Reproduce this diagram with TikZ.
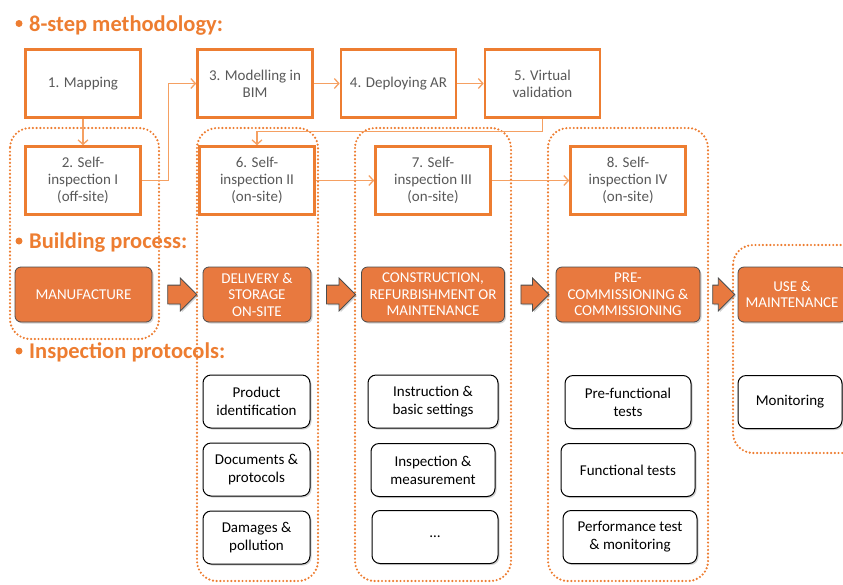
\documentclass[tikz,border=0pt]{standalone}
\usepackage{fontspec}
\setmainfont{Carlito}
\usetikzlibrary{positioning,calc,shapes.arrows,shadows,arrows.meta}
\definecolor{boxorange}{HTML}{ED7D31}
\definecolor{linkorange}{HTML}{F5A062}
\definecolor{fillorange}{HTML}{E8793F}
\definecolor{txtgray}{HTML}{595959}

\begin{document}
\begin{tikzpicture}[x=1pt, y=-1pt,
    stepbox/.style={draw=boxorange, line width=2.6pt, fill=white, text=txtgray, align=center,
      minimum width=115pt, minimum height=68pt, inner sep=2pt, font=\fontsize{15}{17}\selectfont},
    procbox/.style={draw=gray!60!black, line width=.8pt, fill=fillorange, text=white, align=center,
      rounded corners=6pt, minimum height=55pt, inner sep=1pt, font=\fontsize{15}{16.5}\selectfont,
      drop shadow={opacity=.35, shadow xshift=1.5pt, shadow yshift=-1.5pt}},
    protbox/.style={draw=black, line width=1pt, fill=white, align=center, rounded corners=8pt,
      minimum height=53pt, inner sep=1pt, font=\fontsize{15}{18}\selectfont,
      drop shadow={opacity=.35, shadow xshift=1.5pt, shadow yshift=-1.5pt}},
    blockarrow/.style={single arrow, draw=gray!60!black, line width=.8pt, fill=fillorange,
      minimum width=32pt, single arrow head extend=7pt, inner xsep=0pt, inner ysep=9pt,
      drop shadow={opacity=.35, shadow xshift=1.5pt, shadow yshift=-1.5pt}},
    region/.style={draw=boxorange, line width=2.4pt, dash pattern=on 0pt off 3.7pt,
      line cap=round, rounded corners=20pt},
    link/.style={draw=linkorange, line width=1.3pt, ->, >={Straight Barb[length=4.5pt, width=10pt]}},
    heading/.style={anchor=base west, inner sep=0pt, text=boxorange,
      font=\fontsize{22.5}{27}\selectfont\bfseries},
    bullet/.style={circle, fill=boxorange, inner sep=0pt, minimum size=7pt}]
  \useasboundingbox (0, 0) rectangle (843, 584);
  \clip (0, 0) rectangle (843, 584);

  \draw [region] (10, 128) rectangle (159, 339)
                 (197, 128) rectangle (318, 581)
                 (355, 128) rectangle (511, 581)
                 (548, 128) rectangle (708, 581)
                 (733, 245) rectangle (870, 453);

  \node [bullet] (dot1) at (19, 23.5) {};
  \node [heading] (h1) at (29, 31) {8-step methodology:};
  \node [bullet] (dot2) at (19, 241) {};
  \node [heading] (h2) at (29, 248.5) {Building process:};
  \node [bullet] (dot3) at (19, 351) {};
  \node [heading] (h3) at (29, 358.5) {Inspection protocols:};

  \node [stepbox] (s1) at (83, 83.5) {1. Mapping};
  \node [stepbox] (s3) at (255, 83.5) {3. Modelling in\\BIM};
  \node [stepbox] (s4) at (398.5, 83.5) {4. Deploying AR};
  \node [stepbox] (s5) at (542.5, 83.5) {5. Virtual\\validation};
  \node [stepbox] (s2) at (83, 180.5) {2. Self-\\inspection I\\(off-site)};
  \node [stepbox] (s6) at (257, 180.5) {6. Self-\\inspection II\\(on-site)};
  \node [stepbox] (s7) at (433, 180.5) {7. Self-\\inspection III\\(on-site)};
  \node [stepbox] (s8) at (628, 180.5) {8. Self-\\inspection IV\\(on-site)};

  \draw [link] (s1) -- (s2);
  \draw [link] (s2.east) -- ++(27, 0) |- (s3.west);
  \draw [link] (s3) -- (s4);
  \draw [link] (s4) -- (s5);
  \draw [link] (s5.south) -- ++(0, 13) -| (s6.north);
  \draw [link] (s6) -- (s7);
  \draw [link] (s7) -- (s8);

  \node [procbox, minimum width=137pt] (b1) at (83.5, 294.5) {MANUFACTURE};
  \node [procbox, minimum width=108pt] (b2) at (257, 294.5) {DELIVERY \&\\STORAGE\\ON-SITE};
  \node [procbox, minimum width=143pt] (b3) at (433, 294.5) {CONSTRUCTION,\\REFURBISHMENT OR\\MAINTENANCE};
  \node [procbox, minimum width=144pt] (b4) at (628, 294.5) {PRE-\\COMMISSIONING \&\\COMMISSIONING};
  \node [procbox, minimum width=108pt] (b5) at (792, 294.5) {USE \&\\MAINTENANCE};

  \node [blockarrow, minimum height=29pt] (a1) at ($(b1.east)!.5!(b2.west)$) {};
  \node [blockarrow, minimum height=29pt] (a2) at ($(b2.east)!.5!(b3.west)$) {};
  \node [blockarrow, minimum height=28pt] (a3) at ($(b3.east)!.5!(b4.west)$) {};
  \node [blockarrow, minimum height=22pt] (a4) at ($(b4.east)!.5!(b5.west)$) {};

  \node [protbox, minimum width=107pt] (p1) at (256.5, 401.5) {Product\\identification};
  \node [protbox, minimum width=107pt] (p2) at (256.5, 469.5) {Documents \&\\protocols};
  \node [protbox, minimum width=107pt] (p3) at (256.5, 537.5) {Damages \&\\pollution};
  \node [protbox, minimum width=130pt] (q1) at (433, 401.5) {Instruction \&\\basic settings};
  \node [protbox, minimum width=124pt] (q2) at (433, 470) {Inspection \&\\measurement};
  \node [protbox, minimum width=126pt] (q3) at (435, 537) {…};
  \node [protbox, minimum width=126pt] (r1) at (628, 402) {Pre-functional\\tests};
  \node [protbox, minimum width=134pt] (r2) at (628, 470) {Functional tests};
  \node [protbox, minimum width=134pt] (r3) at (630, 537) {Performance test\\\& monitoring};
  \node [protbox, minimum width=104pt] (m1) at (790, 402) {Monitoring};
\end{tikzpicture}
\end{document}
